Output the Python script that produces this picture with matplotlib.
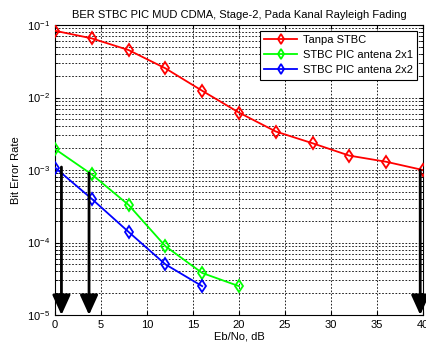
import matplotlib
matplotlib.use("Agg")
import matplotlib.pyplot as plt
from matplotlib.ticker import LogLocator, NullFormatter

plt.rcParams['font.family'] = ['Liberation Sans', 'DejaVu Sans']
plt.rcParams['mathtext.fontset'] = 'custom'
plt.rcParams['mathtext.rm'] = 'Liberation Sans'

# Eb/No (dB) and bit error rates
ebno_red = [0, 4, 8, 12, 16, 20, 24, 28, 32, 36, 40]
ber_tanpa = [0.0834, 0.0655, 0.0452, 0.0253, 0.0124, 0.0062, 0.0034, 0.00234, 0.00158, 0.0013, 0.001]

ebno_2x1 = [0, 4, 8, 12, 16, 20]
ber_2x1 = [0.00195, 0.00087, 0.00033, 8.9e-5, 3.8e-5, 2.5e-5]

ebno_2x2 = [0, 4, 8, 12, 16]
ber_2x2 = [0.00108, 0.0004, 0.00014, 5.0e-5, 2.5e-5]

labels = ['Tanpa STBC', 'STBC PIC antena 2x1', 'STBC PIC antena 2x2']

# downward arrows: x position and starting BER
arrow_x = [0.7, 3.7, 39.7]
arrow_from = [0.0011, 0.00091, 0.001]

xticks = [0, 5, 10, 15, 20, 25, 30, 35, 40]

fig = plt.figure(figsize=(4.27, 3.48), dpi=100)
ax = fig.add_axes([0.1288, 0.0948, 0.8618, 0.8332])

ax.semilogy(ebno_red, ber_tanpa, '-d', color='#ff0000', lw=1.3, ms=6,
            mfc='none', mew=1.3, label=labels[0], zorder=4)
ax.semilogy(ebno_2x1, ber_2x1, '-d', color='#00ff00', lw=1.3, ms=6,
            mfc='none', mew=1.3, label=labels[1], zorder=4)
ax.semilogy(ebno_2x2, ber_2x2, '-d', color='#0000ff', lw=1.3, ms=6,
            mfc='none', mew=1.3, label=labels[2], zorder=4)

for xa, ya in zip(arrow_x, arrow_from):
    ax.annotate('', xy=(xa, 1e-5), xytext=(xa, ya),
                arrowprops=dict(arrowstyle='-|>,head_length=1.1,head_width=0.5',
                                color='black', lw=2.0, mutation_scale=11,
                                shrinkA=0, shrinkB=0),
                zorder=5)

ax.set_xlim(0, 40)
ax.set_ylim(1e-5, 1e-1)
ax.set_xticks(xticks)
ax.set_xticklabels([str(t) for t in xticks])
ax.yaxis.set_major_locator(LogLocator(base=10, numticks=10))
ax.yaxis.set_minor_locator(LogLocator(base=10, subs=range(2, 10), numticks=20))
ax.yaxis.set_minor_formatter(NullFormatter())

ax.grid(True, which='major', linestyle=(0, (2, 2)), color='black', lw=0.6)
ax.grid(True, which='minor', axis='y', linestyle=(0, (2, 2)), color='black', lw=0.6)
ax.set_axisbelow(True)

ax.tick_params(direction='in', which='both', top=True, right=True,
               labelsize=8, length=3)
ax.tick_params(which='minor', length=2)
for s in ax.spines.values():
    s.set_linewidth(0.8)

ax.set_title('BER STBC PIC MUD CDMA, Stage-2, Pada Kanal Rayleigh Fading',
             fontsize=8, pad=5)
ax.set_xlabel('Eb/No, dB', fontsize=8, labelpad=1)
ax.set_ylabel('Bit Error Rate', fontsize=8, labelpad=4)

leg = ax.legend(loc='upper right', fontsize=8, fancybox=False, framealpha=1,
                edgecolor='black', borderaxespad=0.5, handlelength=3,
                labelspacing=0.45, borderpad=0.4, handletextpad=0.5,
                markerscale=0.8)
leg.get_frame().set_linewidth(0.8)

fig.savefig('out.png', dpi=100)
